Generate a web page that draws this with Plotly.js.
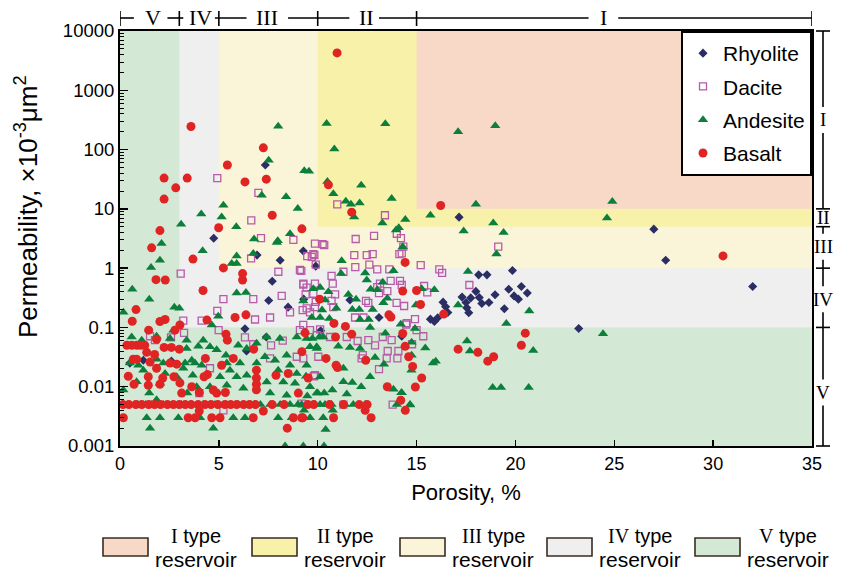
<!DOCTYPE html>
<html>
<head>
<meta charset="utf-8">
<script src="https://cdn.plot.ly/plotly-3.0.1.min.js"></script>
<style>html,body{margin:0;padding:0;background:#fff;}#chart{width:850px;height:573px;}</style>
</head>
<body>
<div id="chart"></div>
<script>
// ---------------- data (porosity %, permeability x10^-3 um^2) ----------------
const rhyoliteX = [7.35,4.74,6.93,8.1,9.27,9.9,7.7,7.52,8.5,9.29,6.32,7.4,6.4,0.5,1.18,2.6,10.15,11.63,13.1,14.25,
  17.15,27.0,27.6,32.0,23.2,19.85,18.14,18.56,20.3,19.66,20.6,19.93,20.15,18.97,18.0,17.74,17.3,18.17,18.3,18.66,19.44,
  16.34,16.47,16.58,17.5,17.54,17.64,15.7,15.9,16.07];
const rhyoliteY = [55,3.2,1.66,1.36,1.95,1.08,0.6,0.285,0.22,0.30,0.095,0.069,0.04,0.025,0.028,0.027,0.088,0.29,0.147,0.071,
  7.24,4.55,1.36,0.49,0.096,0.91,0.77,0.77,0.49,0.44,0.38,0.34,0.30,0.355,0.405,0.315,0.325,0.32,0.254,0.264,0.206,
  0.267,0.223,0.179,0.264,0.214,0.177,0.138,0.126,0.145];

const daciteX = [4.92,7.0,6.64,7.13,8.77,10.99,13.4,12.85,11.92,14.0,14.21,19.13,15.21,16.15,16.29,17.67,15.38,15.54,14.37,14.92,14.5,15.34,15.0,14.33,14.25,
  9.86,10.33,9.47,9.78,9.9,11.85,12.48,12.78,14.13,11.9,12.61,13.01,13.62,9.17,10.7,10.76,11.3,9.86,9.27,13.15,13.69,14.16,14.25,13.01,13.52,13.1,
  10.88,9.39,9.44,9.9,10.7,12.44,12.56,13.99,9.44,9.86,10.79,11.89,12.31,14.47,9.27,9.61,10.12,10.62,11.47,12.02,12.56,13.29,13.74,14.77,12.9,
  13.54,14.08,14.03,13.49,12.22,12.28,10.03,13.1,9.81,11.3,13.79,
  10.25,9.83,9.7,6.63,8.01,9.1,3.07,5.23,3.2,4.13,4.92,6.74,8.18,6.83,7.59,8.6,9.24,9.61,9.78,9.27,3.24,2.58,1.52,1.77,4.99,6.32,6.74,7.64,8.23,
  9.1,9.95,8.94,9.27,7.59,4.55,9.86,4.01,9.19,5.23];
const daciteY = [33,18.6,6.4,3.2,3.0,11.9,7.8,3.5,3.1,3.8,3.2,2.3,1.12,0.95,0.83,0.52,0.5,0.39,0.23,0.138,0.118,0.071,0.09,2.3,1.77,
  2.6,2.44,1.6,1.72,1.15,1.66,1.66,1.72,1.72,1.04,1.15,0.95,0.95,0.9,0.74,0.55,0.87,0.55,0.55,0.55,0.61,0.61,0.52,0.48,0.41,0.38,
  0.36,0.36,0.47,0.27,0.28,0.28,0.26,0.26,0.21,0.22,0.22,0.147,0.147,0.112,0.11,0.09,0.093,0.069,0.069,0.059,0.061,0.069,0.061,0.052,0.05,
  0.04,0.04,0.03,0.03,0.03,0.034,0.032,0.0198,0.015,0.005,0.005,
  2.54,1.66,1.55,1.46,0.87,0.93,0.81,0.3,0.13,0.13,0.19,0.3,0.34,0.136,0.147,0.18,0.196,0.18,0.37,0.53,0.081,0.068,0.071,0.061,0.09,0.068,0.052,0.05,0.06,
  0.09,0.074,0.032,0.03,0.03,0.0205,0.0156,0.0078,0.0052,0.004];

const andesiteX = [8.0,10.45,7.52,9.32,9.56,7.17,8.4,10.49,5.23,4.11,5.14,8.99,3.09,5.88,8.6,6.78,7.98,
  13.42,17.1,18.98,10.84,12.2,10.79,11.42,11.68,12.12,13.74,11.84,13.27,14.43,15.7,18.0,18.88,19.4,17.38,13.96,14.1,
  24.9,24.63,19.04,17.6,14.3,15.26,15.9,14.97,17.1,20.7,19.54,14.92,24.43,17.55,15.44,17.7,20.9,14.75,15.83,15.97,14.74,18.85,19.27,20.67,14.67,14.23,
  11.21,11.18,12.4,13.83,12.48,13.29,12.68,13.01,11.55,11.94,13.52,9.78,10.12,10.54,10.37,9.27,10.22,10.94,11.75,12.1,12.78,13.32,9.7,10.12,10.59,
  12.14,12.58,14.2,12.65,13.42,9.44,9.73,10.08,10.28,11.04,11.63,12.14,9.95,12.9,14.75,13.35,11.3,9.41,12.65,11.3,11.75,12.2,13.83,14.25,10.74,
  10.33,10.0,11.47,9.47,
  9.19,9.44,9.86,10.12,10.37,10.54,10.7,11.38,11.8,12.39,14.0,14.67,
  10.76,9.31,10.4,9.27,10.32,
  2.1,2.02,1.57,4.18,7.93,5.9,5.65,5.9,6.74,0.62,1.48,0.17,2.75,3.0,5.9,6.37,4.97,4.64,3.96,1.85,2.53,1.85,0.93,3.29,3.79,4.13,3.68,5.56,6.07,
  6.41,5.06,5.36,6.41,7.42,8.09,9.61,7.33,7.84,8.43,8.6,8.0,7.42,8.26,8.85,9.61,3.88,3.4,1.48,1.85,
  0.1,0.4,0.9,1.3,1.6,2.2,2.7,3.1,3.6,4.2,4.8,5.4,6.0,6.6,7.1,7.6,8.1,8.6,9.0,
  1.35,2.02,2.95,4.05,5.73,6.32,8.0,8.69,9.61,10.28,
  1.52,4.72,8.35,
  3.37,4.55,4.89,5.98,6.91,8.94,9.95,5.4,6.91,9.44,5.9,8.94,10.12,4.55,5.4,6.24,7.59,8.43,9.95,2.02,2.28,0.84,0.17,2.87,3.63,
  0.59,1.1,2.7,3.37,4.21,2.19,3.2,1.18,0.5];
const andesiteY = [248,276,66,44,43,17,16,29,11.5,8.2,7.3,10.1,5.5,5.0,3.8,3.1,2.9,
  272,199,252,102,25,18,13.5,12,12.5,15,7.3,5.8,6.6,7.8,12,5.8,4.0,4.25,4.4,4.8,
  13.3,7.0,1.74,0.88,2.3,0.45,0.43,0.24,0.24,0.19,0.117,0.096,0.078,0.059,0.045,0.04,0.041,0.056,0.025,0.027,0.019,0.0097,0.0097,0.0097,0.0049,0.0079,
  1.33,0.81,0.83,0.9,0.63,0.58,0.44,0.43,0.36,0.3,0.31,0.45,0.47,0.4,0.29,0.28,0.196,0.21,0.2,0.2,0.2,0.26,0.147,0.147,0.142,
  0.136,0.136,0.113,0.1,0.08,0.065,0.065,0.069,0.069,0.048,0.046,0.044,0.044,0.031,0.034,0.024,0.0205,0.015,0.0147,0.0121,0.0118,0.01,0.0091,0.0079,0.0088,
  0.0078,0.0078,0.0075,0.007,
  0.005,0.005,0.005,0.005,0.005,0.005,0.005,0.005,0.005,0.005,0.005,0.005,
  0.004,0.004,0.0019,0.001,0.001,
  2.6,1.36,1.03,1.96,2.7,1.6,1.2,1.2,1.77,0.44,0.3,0.18,0.22,0.21,0.38,0.39,0.155,0.11,0.048,0.071,0.065,0.029,0.023,0.025,0.025,0.023,0.0156,0.019,0.025,
  0.0156,0.0147,0.034,0.044,0.069,0.065,0.047,0.032,0.028,0.034,0.023,0.019,0.012,0.012,0.0114,0.01,0.01,0.0078,0.0078,0.006,
  0.005,0.005,0.005,0.005,0.005,0.005,0.005,0.005,0.005,0.005,0.005,0.005,0.005,0.005,0.005,0.005,0.005,0.005,0.005,
  0.003,0.003,0.003,0.003,0.003,0.003,0.003,0.003,0.003,0.003,
  0.002,0.002,0.001,
  0.044,0.047,0.042,0.05,0.054,0.069,0.047,0.025,0.025,0.023,0.0147,0.0167,0.0147,0.01,0.0106,0.0094,0.0078,0.0072,0.0078,0.0114,0.0167,0.0121,0.0088,0.0147,0.028,
  0.069,0.061,0.09,0.061,0.061,0.025,0.0205,0.019,0.025];

const basaltX = [3.59,7.25,5.43,2.23,3.4,2.82,6.32,7.4,2.23,7.7,2.02,4.99,9.2,10.54,10.98,11.72,16.22,30.5,14.42,15.0,15.2,16.37,14.3,14.3,14.42,14.6,14.8,15.26,14.94,14.2,14.43,
  20.5,20.3,17.1,18.1,18.6,18.9,
  10.1,13.6,13.7,10.82,11.4,10.9,11.72,9.36,9.2,10.42,10.93,11.0,12.43,9.52,13.52,12.1,9.5,12.4,12.7,9.24,10.8,
  1.6,3.69,5.23,6.2,6.2,1.82,2.29,4.2,0.81,0.62,2.02,2.28,3.03,4.4,5.82,6.37,1.45,2.78,1.85,
  0.35,0.6,0.85,1.05,1.25,
  2.23,2.6,3.0,5.36,5.43,6.76,5.73,4.32,1.35,1.75,0.67,0.84,1.52,5.14,2.53,2.87,1.85,0.42,1.43,2.16,2.73,4.42,4.25,6.9,6.9,6.9,6.9,
  0.71,1.43,2.02,3.03,3.63,4.72,4.89,5.33,7.89,8.51,9.02,3.12,4.01,
  0.15,0.45,0.8,1.1,1.45,1.75,2.05,2.4,2.7,3.0,3.3,3.6,3.95,4.3,4.6,4.95,5.3,5.6,5.9,6.25,6.55,6.85,7.7,8.3,9.8,10.6,11.3,12.5,
  0.17,3.45,3.8,4.64,5.06,6.74,8.77,9.19,
  4.01,7.25,8.46];
const basaltY = [245,107,55,33,33,22.6,28.5,31.7,14.6,7.8,4.3,4.8,4.6,25.4,4270,8.8,11.4,1.61,1.25,0.42,0.244,0.168,0.41,0.079,0.048,0.032,0.022,0.014,0.0099,0.0059,0.004,
  0.08,0.05,0.043,0.038,0.027,0.032,
  0.30,0.163,0.15,0.117,0.104,0.069,0.077,0.081,0.039,0.03,0.023,0.021,0.028,0.014,0.01,0.005,0.005,0.004,0.003,0.003,0.003,
  2.2,1.42,1.01,0.81,0.63,0.64,0.63,0.42,0.2,0.127,0.126,0.136,0.11,0.133,0.147,0.163,0.09,0.09,0.063,
  0.05,0.05,0.05,0.05,0.05,
  0.046,0.046,0.043,0.077,0.061,0.043,0.03,0.03,0.038,0.035,0.029,0.029,0.026,0.023,0.025,0.024,0.0205,0.015,0.0147,0.014,0.0147,0.016,0.0147,0.019,0.014,0.011,0.0089,
  0.011,0.0106,0.011,0.0116,0.01,0.0088,0.0078,0.008,0.0156,0.0167,0.0078,0.0078,0.008,
  0.005,0.005,0.005,0.005,0.005,0.005,0.005,0.005,0.005,0.005,0.005,0.005,0.005,0.005,0.005,0.005,0.005,0.005,0.005,0.005,0.005,0.005,0.005,0.005,0.005,0.005,0.005,0.005,
  0.003,0.003,0.003,0.003,0.003,0.003,0.003,0.003,
  0.0039,0.0039,0.002];

// reservoir class boundaries
const porosityBounds = [0, 3, 5, 10, 15, 35];
const permBounds = [0.001, 0.1, 1, 5, 10, 10000];
const classNames = ['I', 'II', 'III', 'IV', 'V'];
const classColors = ['#F8D9C8', '#F8F1AA', '#FAF5D8', '#EEEFEE', '#D4E9D5'];
const yTickVals = [0.001, 0.01, 0.1, 1, 10, 100, 1000, 10000];
const yTickText = ['0.001', '0.01', '0.1', '1', '10', '100', '1000', '10000'];

// ---------------- layout helpers ----------------
const M = {l: 120, r: 38, t: 31, b: 127};
const PW = 850 - M.l - M.r, PH = 573 - M.t - M.b;
const yRange = [-3, 4];
const yp = v => (Math.log10(v) - yRange[0]) / (yRange[1] - yRange[0]);
const xpx = px => (px - M.l) / PW;            // pixel -> paper x
const ypx = py => (573 - M.b - py) / PH;       // pixel -> paper y

const shapes = [];
const annotations = [];
function rect(x0, x1, v0, v1, color) {
  shapes.push({type: 'rect', layer: 'below', xref: 'x', yref: 'paper', x0, x1, y0: yp(v0), y1: yp(v1),
    fillcolor: color, line: {width: 0}});
}
// V (green) base, then IV, III, II, I on top
rect(porosityBounds[0], porosityBounds[5], permBounds[0], permBounds[5], classColors[4]);
rect(porosityBounds[1], porosityBounds[5], permBounds[1], permBounds[5], classColors[3]);
rect(porosityBounds[2], porosityBounds[5], permBounds[2], permBounds[5], classColors[2]);
rect(porosityBounds[3], porosityBounds[5], permBounds[3], permBounds[5], classColors[1]);
rect(porosityBounds[4], porosityBounds[5], permBounds[4], permBounds[5], classColors[0]);

// top bracket
const line = {color: '#000', width: 1.6};
const topY = ypx(18), topT0 = ypx(11), topT1 = ypx(26);
[[0, 0.7], [2.4, 3.2], [4.8, 6.4], [8.5, 11.6], [13.1, 23.7], [25.2, 35]].forEach(s => {
  shapes.push({type: 'line', xref: 'x', yref: 'paper', x0: s[0], x1: s[1], y0: topY, y1: topY, line});
});
porosityBounds.forEach(x => {
  shapes.push({type: 'line', xref: 'x', yref: 'paper', x0: x, x1: x, y0: topT0, y1: topT1, line});
});
const topLabelX = [1.65, 4.05, 7.45, 12.45, 24.45];
['V', 'IV', 'III', 'II', 'I'].forEach((t, i) => {
  annotations.push({xref: 'x', yref: 'paper', x: topLabelX[i], y: ypx(18), text: t, showarrow: false,
    xanchor: 'center', yanchor: 'middle', font: {family: 'Liberation Serif, DejaVu Serif, serif', size: 22, color: '#000'}});
});

// right bracket
const rX = xpx(823), rT0 = xpx(816), rT1 = xpx(830);
const edges = permBounds.slice().reverse();
edges.forEach(v => {
  shapes.push({type: 'line', xref: 'paper', yref: 'paper', x0: rT0, x1: rT1, y0: yp(v), y1: yp(v), line});
});
const rLabelV = [316, 7.07, 2.3, 0.3, 0.008];
const gap = 13 / PH;
for (let i = 0; i < 5; i++) {
  const top = yp(edges[i]), bot = yp(edges[i + 1]), c = yp(rLabelV[i]);
  if (top - (c + gap) > 0.002) shapes.push({type: 'line', xref: 'paper', yref: 'paper', x0: rX, x1: rX, y0: c + gap, y1: top, line});
  if ((c - gap) - bot > 0.002) shapes.push({type: 'line', xref: 'paper', yref: 'paper', x0: rX, x1: rX, y0: bot, y1: c - gap, line});
  annotations.push({xref: 'paper', yref: 'paper', x: rX, y: c, text: classNames[i], showarrow: false,
    xanchor: 'center', yanchor: 'middle', font: {family: 'Liberation Serif, DejaVu Serif, serif', size: 19, color: '#000'}});
}

// bottom legend of reservoir types
const boxLeft = [103, 252, 400, 547, 695];
boxLeft.forEach((bx, i) => {
  shapes.push({type: 'rect', xref: 'paper', yref: 'paper', x0: xpx(bx), x1: xpx(bx + 45), y0: ypx(556), y1: ypx(538),
    fillcolor: classColors[i], line: {color: '#3A2C22', width: 1.6}});
  annotations.push({xref: 'paper', yref: 'paper', x: xpx(bx + 93), y: ypx(536), showarrow: false,
    xanchor: 'center', yanchor: 'middle',
    text: '<span style="font-family:Liberation Serif, DejaVu Serif, serif">' + classNames[i] + '</span> type',
    font: {family: 'Liberation Sans, Arial, sans-serif', size: 20, color: '#000'}});
  annotations.push({xref: 'paper', yref: 'paper', x: xpx(bx + 93), y: ypx(559), showarrow: false,
    xanchor: 'center', yanchor: 'middle', text: 'reservoir',
    font: {family: 'Liberation Sans, Arial, sans-serif', size: 21, color: '#000'}});
});

// y-axis title (placed as in the reference, slightly above the axis centre)
annotations.push({xref: 'paper', yref: 'paper', x: xpx(26), y: ypx(207), textangle: -90, showarrow: false,
  xanchor: 'center', yanchor: 'middle', text: 'Permeability, ×10<sup>-3</sup>μm<sup>2</sup>',
  font: {family: 'Liberation Sans, Arial, sans-serif', size: 26, color: '#000'}});

// minor ticks for the log axis
const minorVals = [];
for (let e = -3; e < 4; e++) for (let k = 2; k <= 9; k++) minorVals.push(k * Math.pow(10, e));

const traces = [
  {name: 'Rhyolite', x: rhyoliteX, y: rhyoliteY, type: 'scatter', mode: 'markers', legendgroup: 'a',
    marker: {symbol: 'diamond', size: 7, color: '#2B2E63'}},
  {name: 'Dacite', x: daciteX, y: daciteY, type: 'scatter', mode: 'markers', legendgroup: 'b',
    marker: {symbol: 'square-open', size: 7, color: '#B85AAA', line: {width: 1.3}}},
  {name: 'Andesite', x: andesiteX, y: andesiteY, type: 'scatter', mode: 'markers', legendgroup: 'c',
    marker: {symbol: 'triangle-up', size: 9, color: '#0B7F3B'}},
  {name: 'Basalt', x: basaltX, y: basaltY, type: 'scatter', mode: 'markers', legendgroup: 'd',
    marker: {symbol: 'circle', size: 9, color: '#E02424'}}
];

const layout = {
  width: 850, height: 573,
  margin: M,
  paper_bgcolor: '#fff', plot_bgcolor: '#fff',
  font: {family: 'Liberation Sans, Arial, sans-serif', color: '#000'},
  showlegend: true,
  legend: {x: 1, xanchor: 'right', y: 1, yanchor: 'top', bgcolor: '#fff', bordercolor: '#000', borderwidth: 2,
    font: {size: 21, color: '#000'}, tracegroupgap: 3},
  xaxis: {range: [0, 35], tick0: 0, dtick: 5, ticks: 'inside', ticklen: 6, tickwidth: 1.5, tickcolor: '#000',
    showline: true, linewidth: 2, linecolor: '#000', mirror: true, showgrid: false, zeroline: false,
    tickfont: {size: 18}, title: {text: 'Porosity, %', font: {size: 22}, standoff: 12}},
  yaxis: {type: 'log', range: yRange, tickmode: 'array', tickvals: yTickVals, ticktext: yTickText,
    ticks: 'inside', ticklen: 8, tickwidth: 1.5, tickcolor: '#000',
    minor: {tickmode: 'array', tickvals: minorVals, ticks: 'inside', ticklen: 4, tickwidth: 1, tickcolor: '#000', showgrid: false},
    showline: true, linewidth: 2, linecolor: '#000', mirror: true, showgrid: false, zeroline: false,
    tickfont: {size: 18.5}},
  shapes, annotations
};

Plotly.newPlot('chart', traces, layout, {displayModeBar: false, staticPlot: true});
</script>
</body>
</html>
